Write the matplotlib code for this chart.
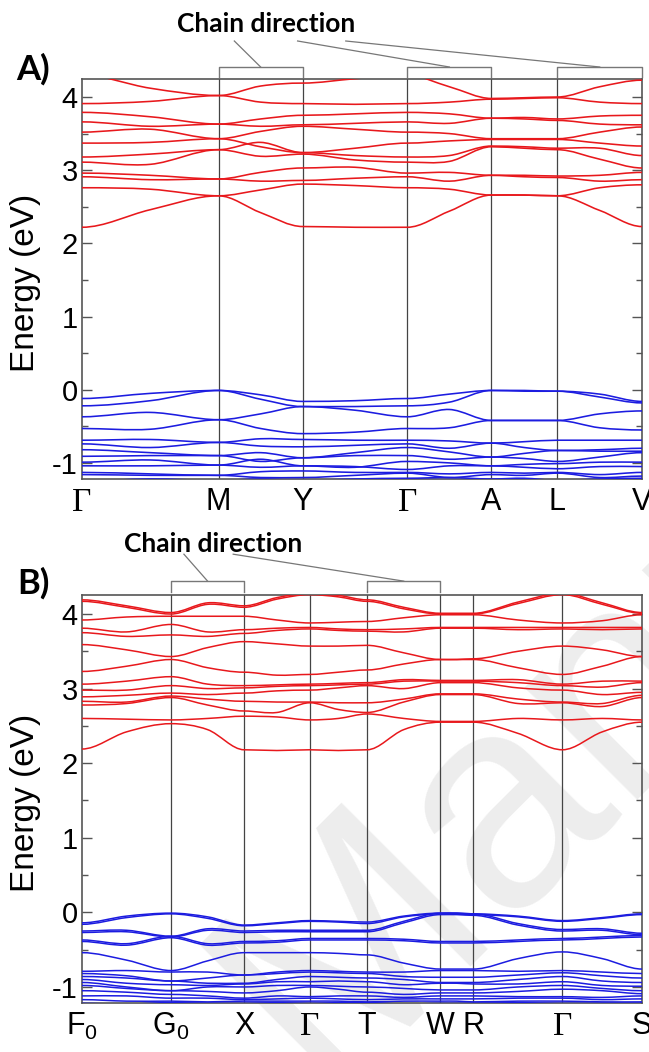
import numpy as np
import matplotlib
matplotlib.use('Agg')
import matplotlib.pyplot as plt
from matplotlib.path import Path
from matplotlib.patches import PathPatch
from matplotlib.lines import Line2D
from matplotlib.ticker import MultipleLocator

plt.rcParams['font.family'] = ['Liberation Sans', 'DejaVu Sans']
plt.rcParams['mathtext.fontset'] = 'custom'
plt.rcParams['mathtext.rm'] = 'Liberation Sans'
plt.rcParams['mathtext.it'] = 'Liberation Sans'

# ---------------- Panel A data ----------------
kpath_A = [0.0, 0.244, 0.394, 0.581, 0.731, 0.849, 1.0]
labels_A = ['Γ', 'M', 'Y', 'Γ', 'A', 'L', 'V']
# values at: sym, mid, sym, mid, ... (13 samples)
cond_A = [
    [2.22, 2.46, 2.65, 2.42, 2.23, 2.22, 2.22, 2.44, 2.66, 2.66, 2.65, 2.45, 2.23],
    [2.76, 2.74, 2.65, 2.73, 2.81, 2.79, 2.76, 2.74, 2.66, 2.66, 2.65, 2.76, 2.80],
    [2.91, 2.87, 2.88, 2.85, 2.86, 2.89, 2.91, 2.85, 2.93, 2.91, 2.90, 2.85, 2.87],
    [2.96, 2.93, 2.88, 2.97, 3.03, 3.04, 2.96, 2.97, 2.93, 2.93, 2.92, 2.93, 2.97],
    [3.11, 3.08, 3.28, 3.19, 3.22, 3.14, 3.11, 3.12, 3.32, 3.30, 3.28, 3.15, 3.03],
    [3.18, 3.22, 3.28, 3.38, 3.24, 3.20, 3.18, 3.20, 3.33, 3.32, 3.30, 3.30, 3.20],
    [3.37, 3.38, 3.43, 3.32, 3.24, 3.30, 3.37, 3.40, 3.42, 3.42, 3.42, 3.37, 3.33],
    [3.52, 3.56, 3.43, 3.53, 3.60, 3.56, 3.52, 3.50, 3.43, 3.43, 3.43, 3.52, 3.59],
    [3.66, 3.60, 3.63, 3.60, 3.62, 3.64, 3.66, 3.64, 3.71, 3.70, 3.68, 3.63, 3.62],
    [3.79, 3.73, 3.63, 3.70, 3.75, 3.77, 3.79, 3.77, 3.71, 3.72, 3.70, 3.74, 3.75],
    [3.91, 3.94, 4.02, 3.93, 3.91, 3.90, 3.91, 3.93, 3.97, 3.98, 3.99, 3.93, 3.91],
    [4.30, 4.12, 4.02, 4.15, 4.19, 4.25, 4.30, 4.14, 3.98, 3.99, 4.00, 4.14, 4.23],
]
val_A = [
    [-0.12, -0.05, -0.01, -0.07, -0.16, -0.15, -0.12, -0.06, -0.01, -0.01, -0.02, -0.06, -0.16],
    [-0.22, -0.15, -0.01, -0.13, -0.23, -0.23, -0.22, -0.17, -0.01, -0.02, -0.02, -0.10, -0.18],
    [-0.37, -0.31, -0.41, -0.33, -0.23, -0.28, -0.37, -0.27, -0.42, -0.42, -0.42, -0.33, -0.29],
    [-0.53, -0.54, -0.41, -0.53, -0.60, -0.58, -0.53, -0.52, -0.42, -0.42, -0.42, -0.52, -0.55],
    [-0.69, -0.68, -0.72, -0.67, -0.68, -0.69, -0.69, -0.70, -0.73, -0.71, -0.69, -0.69, -0.69],
    [-0.74, -0.79, -0.72, -0.77, -0.78, -0.76, -0.74, -0.80, -0.73, -0.79, -0.83, -0.82, -0.80],
    [-0.82, -0.86, -0.90, -0.86, -0.93, -0.86, -0.79, -0.85, -0.92, -0.87, -0.83, -0.84, -0.84],
    [-0.91, -0.90, -0.90, -0.98, -0.93, -0.90, -0.90, -0.95, -0.92, -0.94, -0.98, -0.92, -0.86],
    [-0.99, -0.96, -1.03, -0.95, -1.04, -1.06, -0.98, -1.00, -1.04, -1.02, -1.01, -0.99, -0.99],
    [-1.04, -1.04, -1.03, -1.06, -1.04, -1.05, -1.09, -1.04, -1.04, -1.06, -1.08, -1.05, -1.05],
    [-1.13, -1.15, -1.17, -1.12, -1.11, -1.13, -1.13, -1.15, -1.13, -1.14, -1.13, -1.16, -1.13],
    [-1.16, -1.17, -1.17, -1.20, -1.20, -1.17, -1.14, -1.20, -1.16, -1.17, -1.14, -1.20, -1.18],
    [-1.25, -1.22, -1.24, -1.22, -1.24, -1.22, -1.21, -1.20, -1.22, -1.21, -1.24, -1.22, -1.21],
]

# ---------------- Panel B data ----------------
kpath_B = [0.0, 0.159, 0.2896, 0.4067, 0.509, 0.640, 0.699, 0.858, 1.0]
labels_B = ['F$_0$', 'G$_0$', 'X', 'Γ', 'T', 'W', 'R', 'Γ', 'S']
cond_B = [
    [2.19, 2.42, 2.53, 2.45, 2.18, 2.17, 2.18, 2.17, 2.18, 2.45, 2.55, 2.55, 2.55, 2.40, 2.18, 2.42, 2.55],
    [2.60, 2.59, 2.58, 2.60, 2.63, 2.62, 2.58, 2.60, 2.66, 2.60, 2.56, 2.56, 2.56, 2.60, 2.58, 2.60, 2.58],
    [2.78, 2.80, 2.88, 2.78, 2.70, 2.68, 2.81, 2.72, 2.68, 2.82, 2.92, 2.92, 2.92, 2.80, 2.81, 2.76, 2.88],
    [2.83, 2.82, 2.90, 2.86, 2.83, 2.82, 2.82, 2.81, 2.81, 2.86, 2.93, 2.93, 2.93, 2.86, 2.82, 2.80, 2.91],
    [2.89, 2.91, 2.94, 2.92, 2.94, 2.97, 2.98, 3.01, 3.04, 3.00, 3.08, 3.08, 3.08, 3.01, 2.98, 2.92, 2.95],
    [2.98, 2.98, 3.04, 3.00, 3.01, 3.03, 3.04, 3.05, 3.06, 3.10, 3.10, 3.10, 3.10, 3.08, 3.04, 3.02, 3.08],
    [3.06, 3.10, 3.16, 3.06, 3.04, 3.05, 3.06, 3.07, 3.08, 3.12, 3.11, 3.11, 3.11, 3.12, 3.06, 3.10, 3.10],
    [3.23, 3.30, 3.39, 3.28, 3.22, 3.18, 3.19, 3.22, 3.25, 3.33, 3.39, 3.39, 3.39, 3.28, 3.19, 3.30, 3.43],
    [3.59, 3.52, 3.43, 3.55, 3.63, 3.60, 3.57, 3.57, 3.58, 3.48, 3.39, 3.39, 3.40, 3.50, 3.57, 3.52, 3.43],
    [3.75, 3.70, 3.72, 3.70, 3.74, 3.78, 3.80, 3.78, 3.77, 3.76, 3.81, 3.81, 3.81, 3.79, 3.80, 3.79, 3.80],
    [3.81, 3.76, 3.86, 3.76, 3.79, 3.81, 3.82, 3.80, 3.79, 3.80, 3.82, 3.82, 3.82, 3.82, 3.82, 3.82, 3.82],
    [3.92, 3.96, 3.97, 3.97, 3.97, 3.92, 3.88, 3.89, 3.90, 3.95, 3.99, 3.99, 3.99, 3.92, 3.88, 3.91, 3.99],
    [4.17, 4.09, 4.00, 4.13, 4.09, 4.20, 4.26, 4.23, 4.17, 4.07, 4.00, 4.00, 4.00, 4.14, 4.26, 4.13, 4.01],
    [4.19, 4.11, 4.02, 4.15, 4.11, 4.22, 4.28, 4.25, 4.19, 4.09, 4.01, 4.01, 4.01, 4.16, 4.28, 4.15, 4.02],
]
val_B = [
    [-0.14, -0.05, -0.01, -0.06, -0.17, -0.14, -0.11, -0.12, -0.13, -0.05, -0.01, -0.01, -0.02, -0.05, -0.11, -0.07, -0.02],
    [-0.16, -0.07, -0.02, -0.08, -0.18, -0.15, -0.12, -0.13, -0.15, -0.06, -0.02, -0.02, -0.03, -0.06, -0.12, -0.08, -0.03],
    [-0.25, -0.24, -0.32, -0.22, -0.25, -0.24, -0.24, -0.24, -0.24, -0.12, -0.01, -0.01, -0.02, -0.15, -0.23, -0.22, -0.28],
    [-0.27, -0.26, -0.33, -0.24, -0.27, -0.26, -0.26, -0.26, -0.26, -0.14, -0.03, -0.03, -0.04, -0.17, -0.25, -0.24, -0.30],
    [-0.37, -0.42, -0.32, -0.42, -0.39, -0.38, -0.35, -0.35, -0.35, -0.36, -0.39, -0.39, -0.39, -0.37, -0.35, -0.33, -0.31],
    [-0.39, -0.44, -0.34, -0.44, -0.41, -0.40, -0.37, -0.37, -0.37, -0.38, -0.41, -0.41, -0.41, -0.39, -0.37, -0.35, -0.33],
    [-0.54, -0.64, -0.78, -0.65, -0.54, -0.54, -0.54, -0.55, -0.57, -0.68, -0.76, -0.76, -0.76, -0.62, -0.53, -0.62, -0.76],
    [-0.79, -0.78, -0.80, -0.80, -0.84, -0.80, -0.78, -0.79, -0.80, -0.80, -0.78, -0.78, -0.78, -0.79, -0.78, -0.80, -0.82],
    [-0.82, -0.85, -0.92, -0.88, -0.84, -0.82, -0.80, -0.81, -0.82, -0.86, -0.87, -0.87, -0.87, -0.84, -0.81, -0.85, -0.88],
    [-0.86, -0.88, -0.92, -0.95, -0.95, -0.90, -0.86, -0.87, -0.88, -0.90, -0.94, -0.94, -0.94, -0.90, -0.86, -0.92, -0.94],
    [-0.90, -0.95, -0.97, -0.98, -0.96, -0.93, -0.93, -0.92, -0.93, -0.97, -0.95, -0.95, -0.96, -0.96, -0.93, -0.98, -0.99],
    [-0.94, -1.00, -1.05, -1.00, -1.00, -0.98, -0.98, -0.99, -1.00, -1.02, -1.04, -1.04, -1.04, -1.00, -0.98, -1.02, -1.05],
    [-0.98, -1.02, -1.05, -1.06, -1.08, -1.05, -1.00, -1.03, -1.07, -1.10, -1.08, -1.08, -1.08, -1.06, -1.03, -1.05, -1.09],
    [-1.05, -1.07, -1.10, -1.12, -1.15, -1.12, -1.13, -1.12, -1.12, -1.14, -1.12, -1.12, -1.12, -1.13, -1.13, -1.14, -1.12],
    [-1.12, -1.12, -1.15, -1.15, -1.17, -1.16, -1.15, -1.16, -1.17, -1.16, -1.16, -1.16, -1.16, -1.15, -1.15, -1.17, -1.16],
    [-1.17, -1.19, -1.19, -1.20, -1.19, -1.19, -1.19, -1.19, -1.20, -1.19, -1.19, -1.19, -1.20, -1.19, -1.19, -1.20, -1.20],
    [-1.22, -1.23, -1.21, -1.22, -1.22, -1.21, -1.22, -1.21, -1.21, -1.23, -1.22, -1.22, -1.22, -1.21, -1.22, -1.22, -1.22],
]

RED = '#e8181c'
BLUE = '#1c1ce0'
GRAY = '#555555'


def sample_x(kpath):
    xs = []
    for i in range(len(kpath) - 1):
        xs += [kpath[i], 0.5 * (kpath[i] + kpath[i + 1])]
    xs.append(kpath[-1])
    return np.array(xs)


def band_path(xs, ys):
    ys = np.asarray(ys, float)
    n = len(xs)
    m = np.zeros(n)
    for i in range(1, n - 1, 2):
        m[i] = (ys[i + 1] - ys[i - 1]) / (xs[i + 1] - xs[i - 1])
    verts = [(xs[0], ys[0])]
    codes = [Path.MOVETO]
    for i in range(n - 1):
        dx = xs[i + 1] - xs[i]
        verts += [(xs[i] + dx / 3, ys[i] + m[i] * dx / 3),
                  (xs[i + 1] - dx / 3, ys[i + 1] - m[i + 1] * dx / 3),
                  (xs[i + 1], ys[i + 1])]
        codes += [Path.CURVE4] * 3
    return Path(verts, codes)


def draw_panel(ax, kpath, labels, cond, val, ylim, lw):
    xs = sample_x(kpath)
    for b in cond:
        ax.add_patch(PathPatch(band_path(xs, b), fill=False, edgecolor=RED, lw=lw, zorder=3))
    for b in val:
        ax.add_patch(PathPatch(band_path(xs, b), fill=False, edgecolor=BLUE, lw=lw, zorder=3))
    for k in kpath[1:-1]:
        ax.axvline(k, color='#444444', lw=0.9, zorder=2)
    ax.set_xlim(kpath[0], kpath[-1])
    ax.set_ylim(*ylim)
    ax.set_xticks(kpath)
    ax.set_xticklabels(labels)
    ax.tick_params(axis='x', length=0, pad=6, labelsize=22)
    for lbl in ax.get_xticklabels():
        if lbl.get_text() == 'Γ':
            lbl.set_family('Liberation Serif')
            lbl.set_fontsize(24)
    ax.set_yticks([-1, 0, 1, 2, 3, 4])
    ax.set_yticklabels(['-1', '0', '1', '2', '3', '4'])
    ax.yaxis.set_minor_locator(MultipleLocator(0.5))
    ax.tick_params(axis='y', which='major', direction='in', left=True, right=True,
                   length=7, width=1, color=GRAY, labelsize=21, pad=3)
    ax.tick_params(axis='y', which='minor', direction='in', left=True, right=True,
                   length=4, width=1, color=GRAY)
    for s in ax.spines.values():
        s.set_color(GRAY)
        s.set_linewidth(1.2)
    ax.set_ylabel('Energy (eV)', fontsize=24)
    ax.yaxis.set_label_coords(-0.073, 0.49)


def bracket(ax, x0, x1, ylo, yhi):
    ax.add_line(Line2D([x0, x0, x1, x1], [ylo, yhi, yhi, ylo], transform=ax.transAxes,
                       color='#777777', lw=1.0, clip_on=False))


def leader(ax, xs_, ys_):
    ax.add_line(Line2D(xs_, ys_, transform=ax.transAxes, color='#777777', lw=0.9, clip_on=False))


fig = plt.figure(figsize=(6.49, 10.52), dpi=100)

# faint watermark behind the panels
fig.text(0.495, -0.037, 'Manuscript', rotation=45, rotation_mode='anchor', ha='left', va='baseline',
         fontsize=216, color='#ededed', zorder=-5)

axA = fig.add_axes([82 / 649, 1 - 479 / 1052, 560 / 649, 400 / 1052])
axB = fig.add_axes([82 / 649, 1 - 1003 / 1052, 560 / 649, 408 / 1052])
for ax in (axA, axB):
    ax.patch.set_alpha(0)

draw_panel(axA, kpath_A, labels_A, cond_A, val_A, (-1.22, 4.246), 1.15)
draw_panel(axB, kpath_B, labels_B, cond_B, val_B, (-1.215, 4.255), 1.1)

# Chain-direction annotations, panel A
xA = kpath_A
for (a, b) in [(xA[1], xA[2]), (xA[3], xA[4]), (xA[5], xA[6])]:
    bracket(axA, a, b, 1.005, 1.03)
leader(axA, [0.272, (xA[1] + xA[2]) / 2], [1.095, 1.03])
leader(axA, [0.385, (xA[3] + xA[4]) / 2], [1.095, 1.03])
leader(axA, [0.471, (xA[5] + xA[6]) / 2], [1.095, 1.03])
axA.text(0.329, 1.1375, 'Chain direction', transform=axA.transAxes, ha='center', va='center',
         fontsize=19, fontweight='bold', family=['Lato', 'DejaVu Sans'], clip_on=False)

# panel B
xB = kpath_B
for (a, b) in [(xB[1], xB[2]), (xB[4], xB[5])]:
    bracket(axB, a, b, 1.007, 1.034)
leader(axB, [0.182, (xB[1] + xB[2]) / 2], [1.10, 1.034])
leader(axB, [0.270, (xB[4] + xB[5]) / 2], [1.10, 1.034])
axB.text(0.234, 1.126, 'Chain direction', transform=axB.transAxes, ha='center', va='center',
         fontsize=19, fontweight='bold', family=['Lato', 'DejaVu Sans'], clip_on=False)

fig.text(33 / 649, 1 - 69 / 1052, 'A)', ha='center', va='center', fontsize=25, fontweight='bold',
         family=['Lato', 'DejaVu Sans'])
fig.text(33 / 649, 1 - 583 / 1052, 'B)', ha='center', va='center', fontsize=25, fontweight='bold',
         family=['Lato', 'DejaVu Sans'])

fig.savefig('out.png', dpi=100)
